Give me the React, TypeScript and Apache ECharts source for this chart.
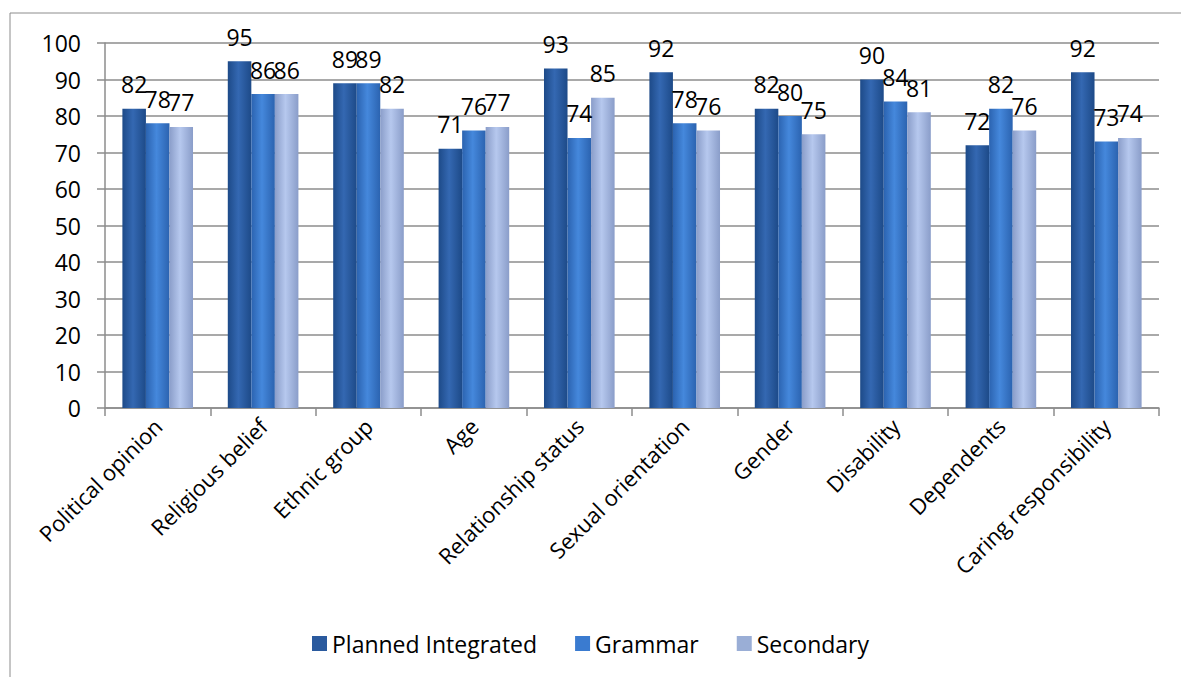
import React, { useEffect, useRef } from "react";
import * as echarts from "echarts";

const categories = [
  "Political opinion",
  "Religious belief",
  "Ethnic group",
  "Age",
  "Relationship status",
  "Sexual orientation",
  "Gender",
  "Disability",
  "Dependents",
  "Caring responsibility",
];
const plannedIntegrated = [82, 95, 89, 71, 93, 92, 82, 90, 72, 92];
const grammar = [78, 86, 89, 76, 74, 78, 80, 84, 82, 73];
const secondary = [77, 86, 82, 77, 85, 76, 75, 81, 76, 74];
const seriesNames = ["Planned Integrated", "Grammar", "Secondary"];

const FONT = "'Open Sans', sans-serif";

function grad(edge: string, mid: string) {
  return new echarts.graphic.LinearGradient(0, 0, 1, 0, [
    { offset: 0, color: edge },
    { offset: 0.45, color: mid },
    { offset: 1, color: edge },
  ]);
}

export default function App() {
  const ref = useRef<HTMLDivElement>(null);
  useEffect(() => {
    document.body.style.margin = "0";
    if (!ref.current) return;
    const chart = echarts.init(ref.current, undefined, { renderer: "svg" });
    const colors = [
      grad("#1d4a88", "#3468b2"),
      grad("#2b63b0", "#4588dc"),
      grad("#8a9dc9", "#b6c8ee"),
    ];
    const legendColors = ["#2a5a9e", "#3a7bd0", "#9aaed6"];
    const datasets = [plannedIntegrated, grammar, secondary];
    chart.setOption({
      animation: false,
      textStyle: { fontFamily: FONT },
      graphic: [
        {
          type: "rect",
          shape: { x: 10, y: 13, width: 1200, height: 700 },
          style: { fill: "none", stroke: "#8c8c8c", lineWidth: 1 },
          silent: true,
        },
      ],
      grid: { left: 105, right: 22, top: 43, bottom: 269, containLabel: false },
      legend: {
        bottom: 17,
        left: "center",
        itemGap: 38,
        itemWidth: 15,
        itemHeight: 15,
        icon: "rect",
        textStyle: { fontSize: 23, color: "#000", fontFamily: FONT },
        data: seriesNames.map((n, i) => ({ name: n, itemStyle: { color: legendColors[i] } })),
      },
      xAxis: {
        type: "category",
        data: categories,
        axisLine: { lineStyle: { color: "#8c8c8c", width: 1.5 } },
        axisTick: { show: true, length: 8, interval: 0, lineStyle: { color: "#8c8c8c", width: 1.5 } },
        axisLabel: {
          rotate: 45,
          interval: 0,
          fontSize: 22,
          color: "#000",
          margin: 14,
          fontFamily: FONT,
        },
      },
      yAxis: {
        type: "value",
        min: 0,
        max: 100,
        interval: 10,
        axisLine: { show: true, lineStyle: { color: "#8c8c8c", width: 1.5 } },
        axisTick: { show: true, length: 8, lineStyle: { color: "#8c8c8c", width: 1.5 } },
        splitLine: { lineStyle: { color: "#8c8c8c", width: 1.5 } },
        axisLabel: { fontSize: 23, color: "#000", margin: 24, fontFamily: FONT },
      },
      series: datasets.map((d, i) => ({
        name: seriesNames[i],
        type: "bar",
        data: d,
        barGap: "0%",
        barCategoryGap: "33%",
        itemStyle: { color: colors[i] },
        label: {
          show: true,
          position: "top",
          distance: 13,
          fontSize: 23,
          color: "#000",
          fontFamily: FONT,
        },
      })),
    });
    return () => chart.dispose();
  }, []);
  return <div ref={ref} style={{ width: 1181, height: 677 }} />;
}
